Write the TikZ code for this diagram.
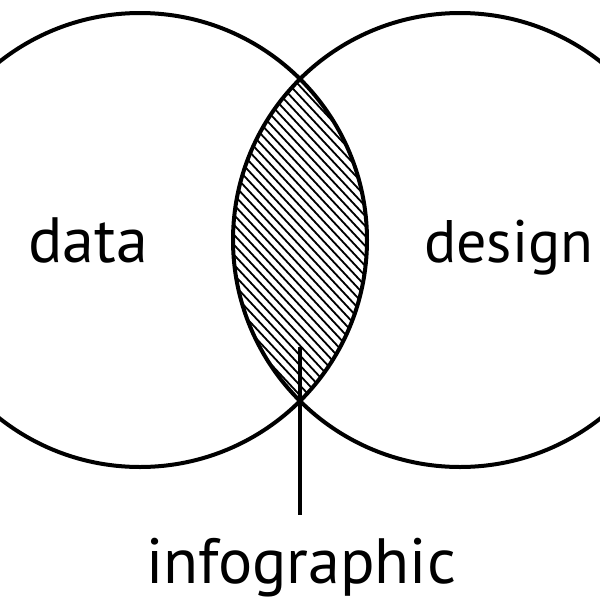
\documentclass[tikz,border=0pt]{standalone}
\usepackage{fontspec}
\setmainfont{PT Sans}
\begin{document}
\begin{tikzpicture}[x=1pt,y=-1pt,
  ring/.style={draw=black,line width=4pt},
  hatchline/.style={draw=black,line width=1.8pt},
  lbl/.style={font=\fontsize{64}{64}\selectfont,inner sep=0pt,anchor=base},
  lead/.style={draw=black,line width=3.6pt}]
\useasboundingbox (0,0) rectangle (600,600);
\begin{scope}
  \clip (140,240) circle (227);
  \clip (460,240) circle (227);
  \foreach \x in {90,99.3,...,515}{
    \draw[hatchline] ({\x-260*cos(47)},{240-260*sin(47)}) -- ({\x+260*cos(47)},{240+260*sin(47)});
  }
\end{scope}
\node[ring,circle,minimum size=454pt,inner sep=0pt] (left) at (140,240) {};
\node[ring,circle,minimum size=454pt,inner sep=0pt] (right) at (460,240) {};
\node[lbl] (data) at (88,262) {data};
\node[lbl,anchor=base west,font=\fontsize{60}{60}\selectfont] (design) at (424,262) {design};
\node[lbl] (info) at (301,583) {infographic};
\coordinate (tip) at (300,347);
\coordinate (foot) at (300,515);
\draw[lead] (tip) -- (foot);
\end{tikzpicture}
\end{document}
